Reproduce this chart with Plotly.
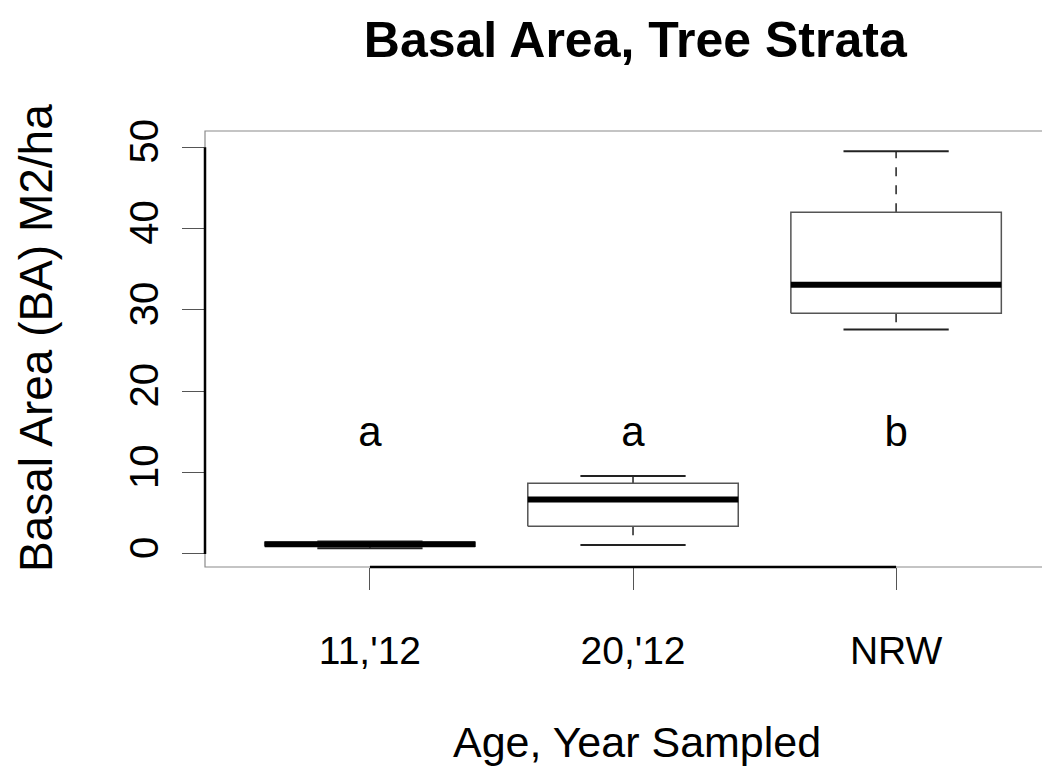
import numpy as np
import plotly.graph_objects as go

# boxplot summary per group
categories = ["11,'12", "20,'12", "NRW"]
lower_whisker = [0.7, 1.1, 27.6]
q1 = [0.95, 3.4, 29.6]
median = [1.2, 6.7, 33.1]
q3 = [1.45, 8.7, 42.0]
upper_whisker = [1.55, 9.6, 49.5]
group_letters = ["a", "a", "b"]
letter_y = 14.6
y_ticks = [0, 10, 20, 30, 40, 50]

FONT = "Liberation Sans, Arial, sans-serif"
box_half = 0.4    # box width 0.8
cap_half = 0.2    # staples at half box width

positions = np.arange(1, len(categories) + 1)

fig = go.Figure()

for i, p in enumerate(positions):
    # whiskers (dashed)
    fig.add_trace(go.Scatter(
        x=[p, p, None, p, p],
        y=[q3[i], upper_whisker[i], None, q1[i], lower_whisker[i]],
        mode="lines", line=dict(color="#222222", width=1.5, dash="dash"),
        hoverinfo="skip", showlegend=False))
    # staples
    fig.add_trace(go.Scatter(
        x=[p - cap_half, p + cap_half, None, p - cap_half, p + cap_half],
        y=[upper_whisker[i], upper_whisker[i], None, lower_whisker[i], lower_whisker[i]],
        mode="lines", line=dict(color="#222222", width=2),
        hoverinfo="skip", showlegend=False))
    # box body
    fig.add_trace(go.Scatter(
        x=[p - box_half, p + box_half, p + box_half, p - box_half, p - box_half],
        y=[q1[i], q1[i], q3[i], q3[i], q1[i]],
        mode="lines", fill="toself", fillcolor="white",
        line=dict(color="#555555", width=1.5),
        hoverinfo="skip", showlegend=False))
    # median
    fig.add_trace(go.Scatter(
        x=[p - box_half, p + box_half],
        y=[median[i], median[i]],
        mode="lines", line=dict(color="black", width=6),
        name=categories[i], showlegend=False))

# significance letters
fig.add_trace(go.Scatter(
    x=positions, y=[letter_y] * len(positions),
    mode="text", text=group_letters,
    textfont=dict(family=FONT, size=42, color="black"),
    hoverinfo="skip", showlegend=False))

shapes = [
    # thin plot frame
    dict(type="rect", xref="paper", yref="paper", x0=0, x1=1.01, y0=0, y1=1,
         line=dict(color="#8a8a8a", width=1.2)),
    # y axis line 0..50
    dict(type="line", xref="paper", yref="y", x0=0, x1=0,
         y0=y_ticks[0], y1=y_ticks[-1], line=dict(color="black", width=2.5)),
    # x axis line from first to last group
    dict(type="line", xref="x", yref="paper", x0=positions[0], x1=positions[-1],
         y0=0, y1=0, line=dict(color="black", width=2.5)),
]

# page body has an 8px margin, so the figure is 8px smaller than the window
fig.update_layout(
    width=1042, height=759,
    margin=dict(l=197, r=0, t=123, b=200),
    plot_bgcolor="white", paper_bgcolor="white",
    font=dict(family=FONT, color="black"),
    title=dict(text="<b>Basal Area, Tree Strata</b>", xref="container", x=0.602,
               xanchor="center", y=0.958, yanchor="middle",
               font=dict(family=FONT, size=50, color="black")),
    xaxis=dict(range=[0.373, 3.585], tickvals=positions, ticktext=categories,
               ticks="outside", ticklen=22, tickcolor="#555555", tickwidth=1.2,
               showgrid=False, zeroline=False, showline=False,
               tickfont=dict(family=FONT, size=39), ticklabelstandoff=27),
    yaxis=dict(range=[-1.6, 52.0], tickvals=y_ticks, tickangle=-90,
               ticks="outside", ticklen=22, tickcolor="#555555", tickwidth=1.2,
               showgrid=False, zeroline=False, showline=False,
               tickfont=dict(family=FONT, size=40), ticklabelstandoff=8),
    shapes=shapes,
    annotations=[
        dict(text="Age, Year Sampled", xref="paper", yref="paper",
             x=0.511, y=-0.401, xanchor="center", yanchor="middle",
             showarrow=False, font=dict(family=FONT, size=43)),
        dict(text="Basal Area (BA) M2/ha", xref="paper", yref="paper",
             x=-0.200, y=0.525, xanchor="center", yanchor="middle",
             textangle=-90, showarrow=False, font=dict(family=FONT, size=46)),
    ],
)

fig.write_html("out.html")
